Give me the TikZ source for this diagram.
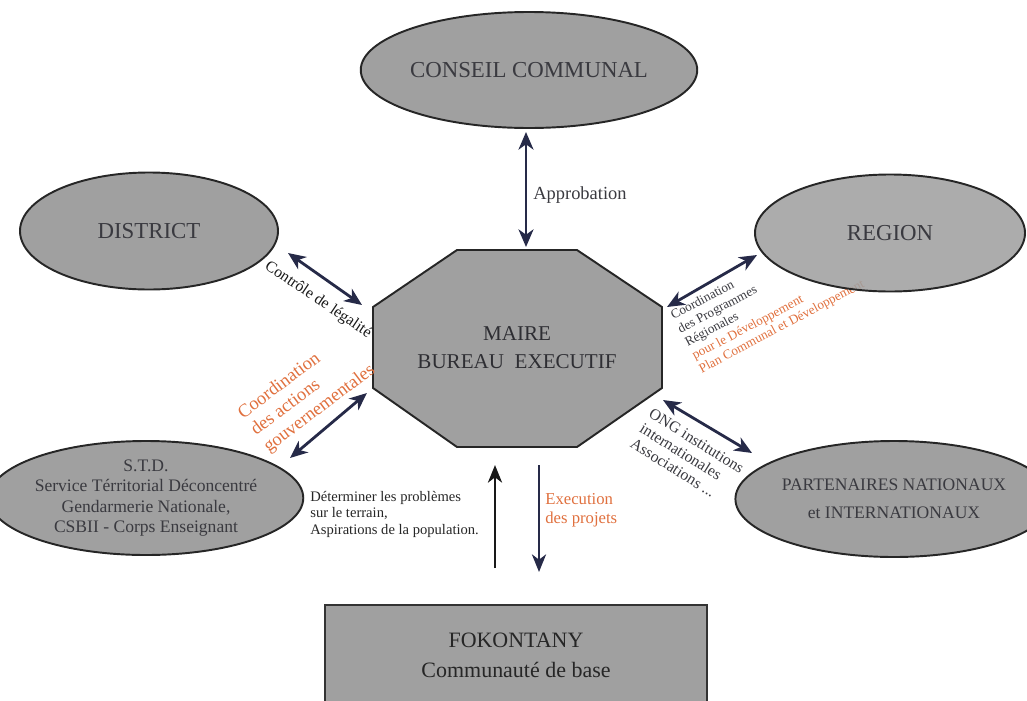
\documentclass[tikz,border=0pt]{standalone}
\usepackage{fontspec}
\setmainfont{Liberation Serif}
\usepackage{tikz}
\usetikzlibrary{arrows.meta,shapes.geometric}
\definecolor{bubblegray}{RGB}{160,160,160}
\definecolor{inkgray}{RGB}{58,58,64}
\definecolor{arrownavy}{RGB}{38,42,72}
\definecolor{rustorange}{RGB}{224,112,62}

\begin{document}
\begin{tikzpicture}[x=0.02cm, y=-0.02cm,
bubble/.style={
		ellipse,
		draw=black!85,
		line width=1.1pt,
		fill=bubblegray,
		text=inkgray,
		align=center,
		inner sep=0pt,
		},
octo/.style={draw=black!85, line width=1.1pt, fill=bubblegray},
twoway/.style={<->, >={Stealth[length=10pt,width=8.5pt,inset=3pt]}, line width=1.6pt, draw=arrownavy},
oneway/.style={->, >={Stealth[length=10pt,width=8pt,inset=3pt]}, line width=1.6pt},
note/.style={inner sep=0pt, align=left, text=inkgray}
]

\def \px {0.02cm} % one pixel of the page
\useasboundingbox (0,0) rectangle (1027,700);

% labels of the right side first, the REGION ellipse goes over them
\node[note, rotate=28, anchor=west, font=\fontsize{7.5}{8.6}\selectfont] (lblRegion) at (686,344)
  {Coordination\\des Programmes\\Régionales\\\textcolor{rustorange}{pour le Développement}\\\textcolor{rustorange}{Plan Communal et Développement}};

\node[bubble, minimum width=272*\px, minimum height=116*\px, font=\fontsize{13}{15}\selectfont] (conseil) at (529,70) {CONSEIL COMMUNAL};
\node[bubble, minimum width=258*\px, minimum height=117*\px, font=\fontsize{13}{15}\selectfont] (district) at (149,231) {DISTRICT};
\node[bubble, fill opacity=0.88, text opacity=1, minimum width=270*\px, minimum height=117*\px, font=\fontsize{13}{15}\selectfont] (region) at (890,233) {REGION};
\node[bubble, minimum width=262*\px, minimum height=114*\px, font=\fontsize{10}{11.5}\selectfont] (std) at (146,498)
  {S.T.D.\\Service Térritorial Déconcentré\\Gendarmerie Nationale,\\CSBII - Corps Enseignant};
\node[bubble, minimum width=264*\px, minimum height=116*\px, font=\fontsize{10}{16}\selectfont] (partners) at (894,499)
  {PARTENAIRES NATIONAUX\\et INTERNATIONAUX};

\filldraw[octo] (373,307) -- (457,250) -- (577,250) -- (662,307) -- (662,388) -- (577,447) -- (457,447) -- (373,388) -- cycle;
\node[align=center, text=inkgray!80!black, minimum width=289*\px, minimum height=197*\px, font=\fontsize{12}{16}\selectfont] (maire) at (517,348)
  {MAIRE\\BUREAU\ \ EXECUTIF};

\node[draw=black!80, line width=1.3pt, fill=bubblegray, minimum width=382*\px, minimum height=100*\px, align=center, text=black!85, font=\fontsize{12.5}{17}\selectfont] (fokontany) at (516,655)
  {FOKONTANY\\Communauté de base};

\coordinate (apA) at (526,132);  \coordinate (apB) at (526,247);
\coordinate (diA) at (288,253);  \coordinate (diB) at (362,305);
\coordinate (stA) at (290,458);  \coordinate (stB) at (367,393);
\coordinate (reA) at (667,307);  \coordinate (reB) at (757,255);
\coordinate (paA) at (663,400);  \coordinate (paB) at (752,453);
\coordinate (upA) at (495,568);  \coordinate (upB) at (495,465);
\coordinate (dnA) at (539,465);  \coordinate (dnB) at (539,572);

\foreach \a/\b in {apA/apB, diA/diB, stA/stB, reA/reB, paA/paB}
{
  \draw[twoway] (\a) -- (\b);
}
\draw[oneway, draw=black!90] (upA) -- (upB);
\draw[oneway, draw=arrownavy] (dnA) -- (dnB);

\node[note, anchor=west, font=\fontsize{10.5}{12}\selectfont] (lblApprob) at (533,195) {Approbation};
\node[note, rotate=-34, text=black!90, font=\fontsize{9}{10}\selectfont] (lblControle) at (318,300) {Contrôle de légalité};
\node[note, rotate=37, text=rustorange, font=\fontsize{10.5}{12}\selectfont] (lblGouv) at (307,392)
  {Coordination\\des actions\\gouvernementales};
\node[note, rotate=-32, anchor=west, font=\fontsize{9}{10}\selectfont] (lblOng) at (641,427)
  {ONG institutions\\internationales\\Associations ...};
\node[note, anchor=west, text=black!85, font=\fontsize{8.3}{9.4}\selectfont] (lblProblem) at (310,514)
  {Déterminer les problèmes\\sur le terrain,\\Aspirations de la population.};
\node[note, anchor=west, text=rustorange, font=\fontsize{9.5}{11}\selectfont] (lblExec) at (545,510)
  {Execution\\des projets};

\end{tikzpicture}
\end{document}
